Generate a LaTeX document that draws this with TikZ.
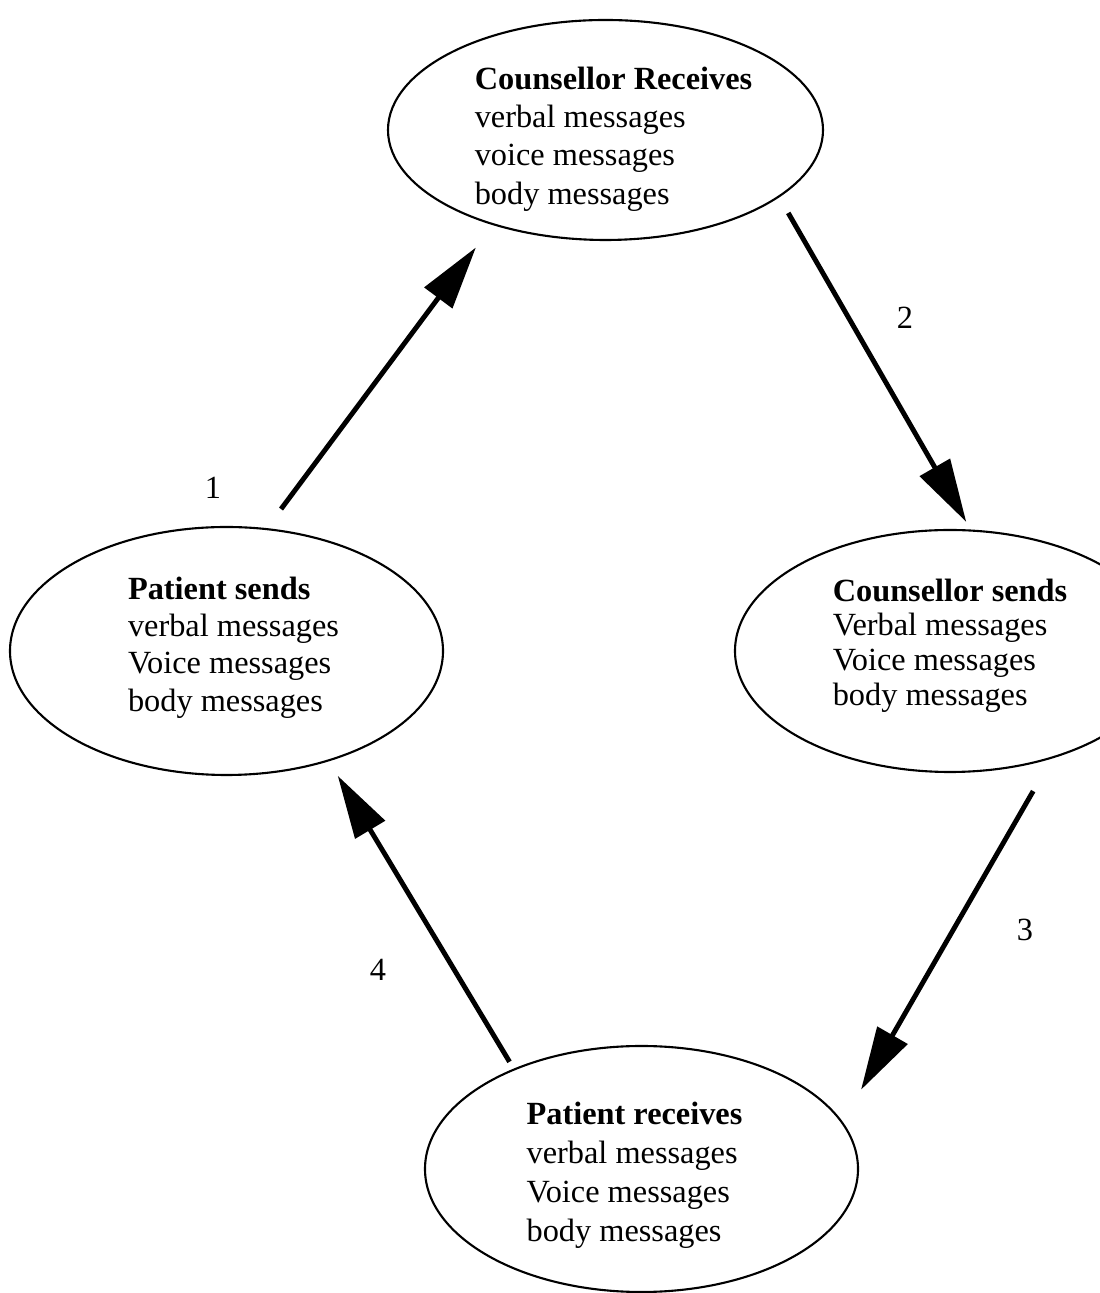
\documentclass[tikz,border=0pt]{standalone}
\usepackage{fontspec}
\setmainfont{Liberation Serif}
\usetikzlibrary{shapes.geometric,arrows.meta}
\begin{document}
\begin{tikzpicture}[txt/.style={font=\fontsize{9.2}{11}\selectfont},
  bubble/.style={ellipse,draw,line width=0.6pt,outer sep=0pt,inner sep=0pt},
  words/.style={align=left,font=\fontsize{9.2}{#1}\selectfont},
  flow/.style={line width=1.4pt,-{Triangle[length=6.3mm,width=3.4mm]}}]
\useasboundingbox (0,0) rectangle (11,12.93);
\clip (0,0) rectangle (11,12.93);
\node[bubble,minimum width=4.35cm,minimum height=2.2cm] (CR) at (6.055,11.63) {};
\node[bubble,minimum width=4.33cm,minimum height=2.48cm] (PS) at (2.265,6.42) {};
\node[bubble,minimum width=4.3cm,minimum height=2.42cm] (CS) at (9.5,6.42) {};
\node[bubble,minimum width=4.33cm,minimum height=2.46cm] (PR) at (6.415,1.24) {};
\node[words=10.9] (CRt) at ([xshift=0.08cm,yshift=-0.09cm]CR) {\textbf{Counsellor Receives}\\verbal messages\\voice messages\\body messages};
\node[words=10.6] (PSt) at ([xshift=0.07cm,yshift=0.035cm]PS) {\textbf{Patient sends}\\verbal messages\\Voice messages\\body messages};
\node[words=9.9] (CSt) at ([yshift=0.055cm]CS) {\textbf{Counsellor sends}\\Verbal messages\\Voice messages\\body messages};
\node[words=11.1] (PRt) at ([xshift=-0.07cm,yshift=-0.06cm]PR) {\textbf{Patient receives}\\verbal messages\\Voice messages\\body messages};
\draw[flow,shorten <=0.25cm,shorten >=0.29cm] (PS.72.5) -- (CR.220.8);
\draw[flow,shorten <=0.19cm,shorten >=0.1cm] (CR.339) -- (CS.80.6);
\draw[flow,shorten <=0.39cm,shorten >=0.38cm] (CS.314.7) -- (PR.13.6);
\draw[flow,shorten <=0.09cm,shorten >=0.18cm] (PR.142.5) -- (PS.313.9);
\node[txt] (n1) at (2.13,8.05) {1};
\node[txt] (n2) at (9.05,9.75) {2};
\node[txt] (n3) at (10.25,3.63) {3};
\node[txt] (n4) at (3.78,3.23) {4};
\end{tikzpicture}
\end{document}
